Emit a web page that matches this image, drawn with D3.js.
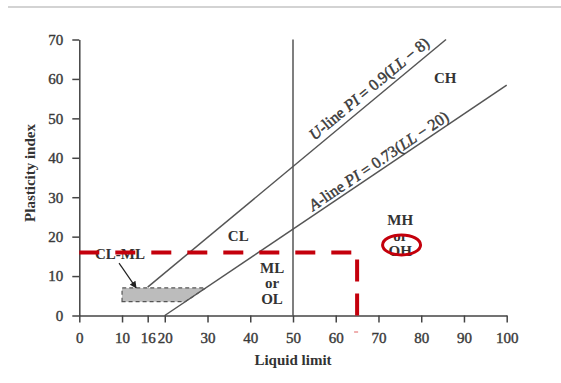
<!DOCTYPE html>
<html lang="en">
<head>
    <meta charset="UTF-8">
    <title>Plasticity chart</title>
    <script src="https://d3js.org/d3.v7.min.js"></script>
    <style>
        body { margin: 0; background: #fff; }
        svg { display: block; }
        .axis path, .axis line { stroke: #444; stroke-width: 1.5; }
        .axis text { font-family: "Liberation Serif", serif; font-size: 15px; fill: #3a3a3a; stroke: #3a3a3a; stroke-width: 0.4; }
        .lbl { font-family: "Liberation Serif", serif; font-size: 15px; font-weight: bold; fill: #333; }
        .eq { font-family: "Liberation Serif", serif; font-size: 16px; fill: #3a3a3a; stroke: #3a3a3a; stroke-width: 0.45; }
    </style>
</head>
<body>
    <script>
        // chart data
        const llTicks = [0, 10, 16, 20, 30, 40, 50, 60, 70, 80, 90, 100];
        const piTicks = [0, 10, 20, 30, 40, 50, 60, 70];

        // U-line and A-line end points (LL, PI)
        const uLine = [[16, 7.2], [85.8, 70]];
        const aLine = [[20, 0], [100, 58.4]];
        const llDivide = [[50, 0], [50, 70]];

        // CL-ML zone
        const clmlZone = [[10, 3.5], [10, 7], [29.6, 7], [24.8, 3.5]];

        // sample point guides (LL = 65, PI = 16)
        const sampleLL = 65;
        const samplePI = 16;

        // zone labels: [LL, PI, text]
        const zoneLabels = [
            [37.2, 20.2, "CL"],
            [9.5, 15.6, "CL-ML"],
            [45.1, 12.1, "ML"],
            [45.1, 8.2, "or"],
            [45.1, 4.3, "OL"],
            [75.1, 24.2, "MH"],
            [75.1, 20.2, "or"],
            [75.1, 16.5, "OH"],
            [85.6, 60.3, "CH"]
        ];

        const width = 561, height = 383;
        const svg = d3.select("body").append("svg")
            .attr("width", width)
            .attr("height", height);

        const x = d3.scaleLinear().domain([0, 100]).range([79.3, 506.7]);
        const y = d3.scaleLinear().domain([0, 70]).range([315.5, 39.5]);

        // top rule
        svg.append("line")
            .attr("x1", 8).attr("x2", width)
            .attr("y1", 7).attr("y2", 7)
            .attr("stroke", "#c4c4c4").attr("stroke-width", 1.5);

        svg.append("defs").append("marker")
            .attr("id", "arr")
            .attr("viewBox", "0 0 10 10")
            .attr("refX", 9).attr("refY", 5)
            .attr("markerWidth", 7).attr("markerHeight", 7)
            .attr("markerUnits", "userSpaceOnUse")
            .attr("orient", "auto")
            .append("path")
            .attr("d", "M0,0L10,5L0,10Z")
            .attr("fill", "#222");

        // CL-ML zone
        svg.append("path")
            .attr("d", "M" + clmlZone.map(d => [x(d[0]), y(d[1])]).join("L") + "Z")
            .attr("fill", "#bcbcbc")
            .attr("stroke", "#555")
            .attr("stroke-width", 1.2)
            .attr("stroke-dasharray", "4,3");

        // lines
        const line = d3.line().x(d => x(d[0])).y(d => y(d[1]));
        [uLine, aLine, llDivide].forEach(pts => {
            svg.append("path")
                .attr("d", line(pts))
                .attr("fill", "none")
                .attr("stroke", "#555")
                .attr("stroke-width", 1.5);
        });

        // axes
        svg.append("g")
            .attr("class", "axis")
            .attr("transform", `translate(0,${y(0)})`)
            .call(d3.axisBottom(x).tickValues(llTicks).tickSize(7).tickSizeOuter(0).tickPadding(10));

        svg.append("g")
            .attr("class", "axis")
            .attr("transform", `translate(${x(0)},0)`)
            .call(d3.axisLeft(y).tickValues(piTicks).tickSize(7).tickSizeOuter(0).tickPadding(9));

        svg.append("text")
            .attr("class", "lbl")
            .attr("x", 293).attr("y", 365)
            .attr("text-anchor", "middle")
            .text("Liquid limit");

        svg.append("text")
            .attr("class", "lbl")
            .attr("transform", "translate(35,173) rotate(-90)")
            .attr("text-anchor", "middle")
            .text("Plasticity index");

        // line equations, rotated along each line
        function lineLabel(pts, atLL, offset, parts) {
            const p0 = [x(pts[0][0]), y(pts[0][1])];
            const p1 = [x(pts[1][0]), y(pts[1][1])];
            const ang = Math.atan2(p1[1] - p0[1], p1[0] - p0[0]) * 180 / Math.PI;
            const t = (atLL - pts[0][0]) / (pts[1][0] - pts[0][0]);
            const px = p0[0] + t * (p1[0] - p0[0]);
            const py = p0[1] + t * (p1[1] - p0[1]);
            const txt = svg.append("text")
                .attr("class", "eq")
                .attr("text-anchor", "middle")
                .attr("transform", `translate(${px},${py}) rotate(${ang})`)
                .attr("y", -offset);
            parts.forEach(([s, it]) => {
                txt.append("tspan").attr("font-style", it ? "italic" : "normal").text(s);
            });
        }

        lineLabel(uLine, 69.5, 6, [["U", true], ["-line ", false], ["PI", true], [" = 0.9(", false], ["LL", true], [" \u2212 8)", false]]);
        lineLabel(aLine, 71.2, 3.5, [["A", true], ["-line ", false], ["PI", true], [" = 0.73(", false], ["LL", true], [" \u2212 20)", false]]);

        // zone labels
        svg.append("g").selectAll("text")
            .data(zoneLabels)
            .enter().append("text")
            .attr("class", "lbl")
            .attr("x", d => x(d[0]))
            .attr("y", d => y(d[1]))
            .attr("dy", "0.35em")
            .attr("text-anchor", "middle")
            .text(d => d[2]);

        // arrow from CL-ML label to the zone
        svg.append("line")
            .attr("x1", x(9.3)).attr("y1", y(13.3))
            .attr("x2", x(13.3)).attr("y2", y(7.0))
            .attr("stroke", "#222").attr("stroke-width", 1.2)
            .attr("marker-end", "url(#arr)");

        // red sample guides
        svg.append("line")
            .attr("x1", x(0)).attr("y1", y(samplePI))
            .attr("x2", x(sampleLL)).attr("y2", y(samplePI))
            .attr("stroke", "#c4000c").attr("stroke-width", 4)
            .attr("stroke-dasharray", "20,16");

        svg.append("line")
            .attr("x1", x(sampleLL)).attr("y1", y(0))
            .attr("x2", x(sampleLL)).attr("y2", y(samplePI))
            .attr("stroke", "#c4000c").attr("stroke-width", 4)
            .attr("stroke-dasharray", "22,12");

        svg.append("line")
            .attr("x1", x(sampleLL) - 3).attr("x2", x(sampleLL) + 1)
            .attr("y1", 332).attr("y2", 332)
            .attr("stroke", "#e06060").attr("stroke-width", 1);

        // red circle around MH / OH
        svg.append("ellipse")
            .attr("cx", x(75.4)).attr("cy", y(17.9))
            .attr("rx", 19).attr("ry", 10)
            .attr("fill", "none")
            .attr("stroke", "#c4000c").attr("stroke-width", 3);
    </script>
</body>
</html>
